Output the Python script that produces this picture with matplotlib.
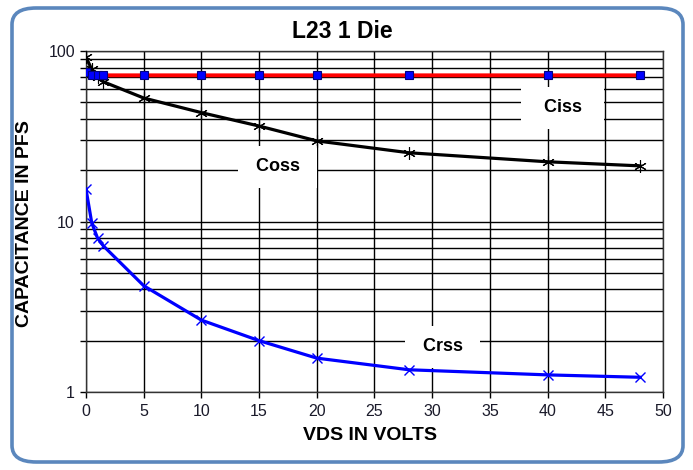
import matplotlib
matplotlib.use("Agg")
import matplotlib.pyplot as plt
from matplotlib.patches import FancyBboxPatch
from matplotlib.ticker import LogLocator, FixedLocator, NullFormatter

plt.rcParams['font.family'] = ['Liberation Sans', 'DejaVu Sans']

# capacitance vs VDS
vds = [0, 0.5, 1, 1.5, 5, 10, 15, 20, 28, 40, 48]
ciss = [75, 72, 72, 72, 72, 72, 72, 72, 72, 72, 72]
coss = [92, 78, 70, 66, 53, 43.5, 36.3, 29.7, 25.3, 22.4, 21.2]
crss = [15.5, 9.8, 8.0, 7.2, 4.2, 2.64, 2.0, 1.58, 1.35, 1.26, 1.22]

x_ticks = [0, 5, 10, 15, 20, 25, 30, 35, 40, 45, 50]

fig = plt.figure(figsize=(6.93, 4.70), dpi=100)
ax = fig.add_axes([86 / 693, 78 / 470, 577 / 693, 341 / 470])

# rounded frame round the whole chart
frame = FancyBboxPatch((12 / 693, 8 / 470), 671 / 693, 454 / 470,
                       boxstyle="round,pad=0,rounding_size=0.035",
                       transform=fig.transFigure, facecolor='white',
                       edgecolor='#5b87bd', linewidth=2.6, zorder=-10)
fig.patches.append(frame)

ax.set_yscale('log')
ax.set_xlim(0, 50)
ax.set_ylim(1, 100)

ax.xaxis.set_major_locator(FixedLocator(x_ticks))
ax.yaxis.set_major_locator(LogLocator(base=10))
ax.yaxis.set_minor_locator(LogLocator(base=10, subs=range(2, 10)))
ax.yaxis.set_minor_formatter(NullFormatter())
ax.set_yticks([1, 10, 100], ['1', '10', '100'])

ax.grid(True, which='major', color='black', linewidth=1.0, zorder=0)
ax.grid(True, which='minor', axis='y', color='black', linewidth=1.0, zorder=0)
ax.set_axisbelow(True)
for sp in ax.spines.values():
    sp.set_color('#333333')
    sp.set_linewidth(1.0)

ax.tick_params(axis='both', which='both', direction='out', length=4.5,
               width=1.0, color='black', labelsize=11.5, labelcolor='#1a1a2a')
ax.tick_params(axis='x', pad=4)

ax.plot(vds, ciss, color='#ff0000', linewidth=2.8, marker='s', markersize=5.5,
        markerfacecolor='#0000ff', markeredgecolor='#000080',
        markeredgewidth=0.8, zorder=5)
ax.plot(vds, coss, color='black', linewidth=2.3, marker=(6, 2, 0),
        markersize=9, markeredgewidth=0.8, zorder=4)
ax.plot(vds, crss, color='#0000ff', linewidth=2.3, marker='x', markersize=7,
        markeredgewidth=1.0, zorder=4)

lbl = dict(fontsize=13, fontweight='bold', ha='center', va='center',
           zorder=3, bbox=dict(boxstyle='square,pad=0.7', facecolor='white',
                               edgecolor='none'))
ax.text(41.3, 46.4, '  Ciss  ', **lbl)
ax.text(16.6, 20.9, ' Coss ', **lbl)
ax.text(30.9, 1.84, ' Crss ', **lbl)

fig.text(342 / 693, 1 - 32 / 470, 'L23 1 Die', fontsize=16.5,
         fontweight='bold', ha='center', va='center')
fig.text(370 / 693, 1 - 435 / 470, 'VDS IN VOLTS', fontsize=14,
         fontweight='bold', ha='center', va='center')
fig.text(25 / 693, 1 - 224 / 470, 'CAPACITANCE IN PFS', fontsize=14,
         fontweight='bold', ha='center', va='center', rotation=90)

fig.savefig('out.png', dpi=100)
